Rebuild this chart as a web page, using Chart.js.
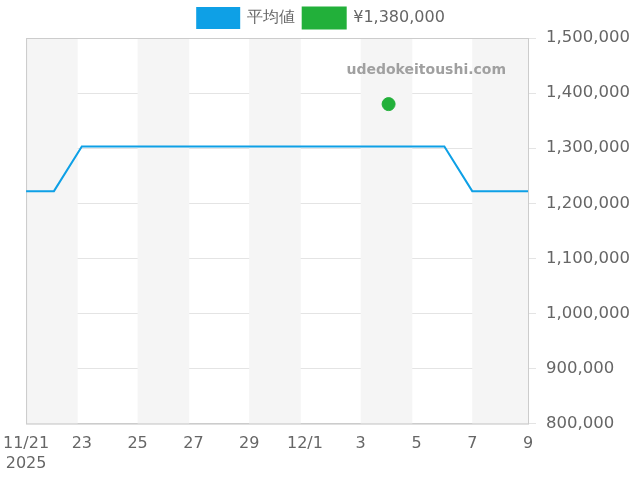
<!DOCTYPE html>
<html>
<head>
<meta charset="utf-8">
<script src="https://cdn.jsdelivr.net/npm/chart.js@4"></script>
<style>
  body { margin: 0; background: #fff; }
  #wrap { width: 640px; height: 480px; }
</style>
</head>
<body>
<div id="wrap"><canvas id="chart"></canvas></div>
<script>
// Days shown on the x axis (index 0 = 11/21)
const dayLabels = ['11/21','11/22','11/23','11/24','11/25','11/26','11/27','11/28','11/29','11/30',
                   '12/1','12/2','12/3','12/4','12/5','12/6','12/7','12/8','12/9'];
const tickLabels = {0: ['11/21', '2025'], 2: '23', 4: '25', 6: '27', 8: '29', 10: '12/1', 12: '3', 14: '5', 16: '7', 18: '9'};
const avgPrice = [1222000, 1222000, 1303000, 1303000, 1303000, 1303000, 1303000, 1303000, 1303000, 1303000,
                  1303000, 1303000, 1303000, 1303000, 1303000, 1303000, 1222000, 1222000, 1222000];
const listingDay = 13;
const listingPrice = 1380000;
// shaded background bands (day index ranges)
const bands = [[0, 1.85], [4, 5.85], [8, 9.85], [12, 13.85], [16, 18]];

const bandPlugin = {
  id: 'bands',
  beforeDatasetsDraw(chart) {
    const {ctx, chartArea, scales: {x}} = chart;
    ctx.save();
    ctx.fillStyle = '#f5f5f5';
    bands.forEach(b => {
      const x1 = x.getPixelForValue(b[0]);
      const x2 = x.getPixelForValue(b[1]);
      ctx.fillRect(x1, chartArea.top, x2 - x1, chartArea.bottom - chartArea.top);
    });
    ctx.strokeStyle = '#ccc';
    ctx.lineWidth = 1;
    ctx.strokeRect(chartArea.left + 0.5, chartArea.top + 0.5, chartArea.right - chartArea.left, chartArea.bottom - chartArea.top);
    ctx.font = 'bold 14px "DejaVu Sans"';
    ctx.fillStyle = '#a0a0a0';
    ctx.textAlign = 'right';
    ctx.fillText('udedokeitoushi.com', chartArea.right - 22, chartArea.top + 32);
    ctx.restore();
  }
};

new Chart(document.getElementById('chart'), {
  type: 'line',
  data: {
    datasets: [{
      label: '平均値',
      data: avgPrice.map((v, i) => ({x: i, y: v})),
      borderColor: '#0ea0e6',
      backgroundColor: '#0ea0e6',
      borderWidth: 2,
      pointRadius: 0,
      tension: 0
    }, {
      label: '¥1,380,000',
      data: [{x: listingDay, y: listingPrice}],
      borderColor: '#22b03a',
      backgroundColor: '#22b03a',
      showLine: false,
      pointRadius: 6.5
    }]
  },
  plugins: [bandPlugin],
  options: {
    responsive: true,
    maintainAspectRatio: false,
    animation: false,
    layout: { padding: { left: 2, right: 0, top: 0, bottom: 4 } },
    plugins: {
      legend: {
        labels: { boxWidth: 42, boxHeight: 20, padding: 8, color: '#666', font: { size: 16, family: 'DejaVu Sans' } }
      },
      tooltip: { enabled: false }
    },
    scales: {
      x: {
        type: 'linear', min: 0, max: 18,
        grid: { display: false },
        border: { color: '#ccc' },
        ticks: {
          stepSize: 2, maxRotation: 0, color: '#666', font: { size: 16, family: 'DejaVu Sans' },
          callback: v => tickLabels[v] || ''
        }
      },
      y: {
        position: 'right', min: 800000, max: 1500000,
        grid: { color: '#e4e4e4' },
        border: { color: '#ccc' },
        ticks: {
          stepSize: 100000, padding: 10, color: '#666', font: { size: 16.5, family: 'DejaVu Sans' },
          callback: v => v.toLocaleString('en-US')
        }
      }
    }
  }
});
</script>
</body>
</html>
